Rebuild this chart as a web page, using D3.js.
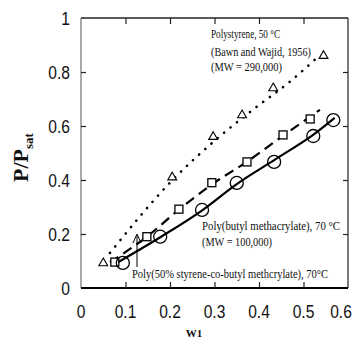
<!DOCTYPE html>
<html><head><meta charset="utf-8">
<script src="https://cdn.jsdelivr.net/npm/d3@7"></script>
<style>
html,body{margin:0;padding:0;background:#fff;}
svg{display:block;}
</style></head>
<body>
<svg id="chart" width="357" height="339"></svg>
<script>
// ---- data ----
const xTicks = [0, 0.1, 0.2, 0.3, 0.4, 0.5, 0.6];
const xTickLabels = ["0", "0.1", "0.2", "0.3", "0.4", "0.5", "0.6"];
const yTicks = [0, 0.2, 0.4, 0.6, 0.8, 1];
const yTickLabels = ["0", "0.2", "0.4", "0.6", "0.8", "1"];

// Polystyrene, 50 °C (triangles)
const psW = [0.05, 0.205, 0.297, 0.362, 0.432, 0.545];
const psP = [0.092, 0.41, 0.56, 0.64, 0.74, 0.86];
// Poly(50% styrene-co-butyl methacrylate), 70 °C (squares)
const coW = [0.076, 0.148, 0.22, 0.294, 0.373, 0.454, 0.515];
const coP = [0.096, 0.19, 0.292, 0.39, 0.467, 0.567, 0.626];
// Poly(butyl methacrylate), 70 °C (circles)
const pbW = [0.094, 0.178, 0.272, 0.35, 0.434, 0.522, 0.567];
const pbP = [0.093, 0.19, 0.289, 0.389, 0.467, 0.563, 0.622];

// fitted curves as drawn
const psFitW = [0.065, 0.2, 0.3, 0.39, 0.47, 0.535];
const psFitP = [0.13, 0.39, 0.545, 0.665, 0.765, 0.86];
const coFitW = [0.065, 0.148, 0.22, 0.3, 0.375, 0.455, 0.537];
const coFitP = [0.095, 0.19, 0.29, 0.39, 0.47, 0.565, 0.66];
const pbFitW = [0.072, 0.18, 0.27, 0.35, 0.44, 0.52, 0.57];
const pbFitP = [0.085, 0.19, 0.285, 0.385, 0.48, 0.565, 0.63];

const svg = d3.select("#chart");
const L = 81, R = 348, T = 18, B = 288;
const x = d3.scaleLinear().domain([0, 0.6]).range([L, R]);
const y = d3.scaleLinear().domain([0, 1]).range([B, T]);

// frame
const g = svg.append("g");
g.append("line").attr("x1", L).attr("x2", R).attr("y1", T).attr("y2", T).attr("stroke", "#222").attr("stroke-width", 1.3);
g.append("line").attr("x1", L).attr("x2", R).attr("y1", B).attr("y2", B).attr("stroke", "#000").attr("stroke-width", 2.2);
g.append("line").attr("x1", L).attr("x2", L).attr("y1", T).attr("y2", B).attr("stroke", "#555").attr("stroke-width", 1);
g.append("line").attr("x1", R).attr("x2", R).attr("y1", T).attr("y2", B).attr("stroke", "#222").attr("stroke-width", 1.2);

// axes via d3 axis generators (inward ticks)
const axB = svg.append("g").attr("transform", `translate(0,${B})`)
  .call(d3.axisTop(x).tickValues(xTicks.slice(1, -1)).tickSize(6).tickFormat(""));
const axT = svg.append("g").attr("transform", `translate(0,${T})`)
  .call(d3.axisBottom(x).tickValues(xTicks.slice(1, -1)).tickSize(6).tickFormat(""));
const axL = svg.append("g").attr("transform", `translate(${L},0)`)
  .call(d3.axisRight(y).tickValues(yTicks.slice(1, -1)).tickSize(5).tickFormat(""));
const axR = svg.append("g").attr("transform", `translate(${R},0)`)
  .call(d3.axisLeft(y).tickValues(yTicks.slice(1, -1)).tickSize(5).tickFormat(""));
[axB, axT, axL, axR].forEach(a => {
  a.select(".domain").remove();
  a.selectAll(".tick line").attr("stroke", "#222").attr("stroke-width", 1.2);
});

// tick labels
const tickFont = "'Liberation Sans', Arial, Helvetica, sans-serif";
svg.append("g").selectAll("text").data(xTicks).join("text")
  .attr("transform", (d, i) => `translate(${Math.min(x(d), 341)},${318}) scale(0.82,1)`)
  .attr("text-anchor", "middle")
  .attr("font-family", tickFont).attr("font-size", 19)
  .attr("fill", "#111")
  .text((d, i) => xTickLabels[i]);
svg.append("g").selectAll("text").data(yTicks).join("text")
  .attr("transform", d => `translate(${70},${y(d) + 7}) scale(0.82,1)`)
  .attr("text-anchor", "end")
  .attr("font-family", tickFont).attr("font-size", 19)
  .attr("fill", "#111")
  .text((d, i) => yTickLabels[i]);

// axis titles
const serif = "'Liberation Serif', 'Times New Roman', Times, serif";
const yl = svg.append("text")
  .attr("transform", "translate(28,182) rotate(-90)")
  .attr("font-family", serif).attr("font-weight", "bold").attr("font-size", 22)
  .attr("fill", "#111");
yl.append("tspan").text("P/P");
yl.append("tspan").attr("font-size", 13).attr("dy", 5).text("sat");

svg.append("text")
  .attr("x", 194).attr("y", 337)
  .attr("text-anchor", "middle")
  .attr("font-family", serif).attr("font-weight", "bold").attr("font-size", 11)
  .attr("fill", "#111")
  .text("W1");

// fitted curves
const lineGen = (W, P) => d3.line().x((d, i) => x(W[i])).y((d, i) => y(P[i])).curve(d3.curveMonotoneX)(W);

svg.append("path").attr("d", lineGen(psFitW, psFitP))
  .attr("fill", "none").attr("stroke", "#000").attr("stroke-width", 2.6)
  .attr("stroke-linecap", "round").attr("stroke-dasharray", "0.1 8.2");
svg.append("path").attr("d", lineGen(coFitW, coFitP))
  .attr("fill", "none").attr("stroke", "#000").attr("stroke-width", 2.2)
  .attr("stroke-dasharray", "10 6");
svg.append("path").attr("d", lineGen(pbFitW, pbFitP))
  .attr("fill", "none").attr("stroke", "#000").attr("stroke-width", 2.2);

// markers
svg.append("g").selectAll("path").data(psW).join("path")
  .attr("d", d3.symbol().type(d3.symbolTriangle).size(34))
  .attr("transform", (d, i) => `translate(${x(d)},${y(psP[i])})`)
  .attr("fill", "#fff").attr("stroke", "#000").attr("stroke-width", 1.1);
svg.append("g").selectAll("rect").data(coW).join("rect")
  .attr("x", d => x(d) - 4).attr("y", (d, i) => y(coP[i]) - 4)
  .attr("width", 8).attr("height", 8)
  .attr("fill", "#fff").attr("stroke", "#000").attr("stroke-width", 1.3);
svg.append("g").selectAll("circle").data(pbW).join("circle")
  .attr("cx", d => x(d)).attr("cy", (d, i) => y(pbP[i])).attr("r", 6.5)
  .attr("fill", "none").attr("stroke", "#000").attr("stroke-width", 1.3);

// annotations
const ann = (lines, widths, x0, ys) => {
  const t = svg.append("text").attr("font-family", serif).attr("font-size", 11.5).attr("fill", "#111");
  lines.forEach((s, i) => t.append("tspan").attr("x", x0).attr("y", ys[i])
    .attr("textLength", widths[i]).attr("lengthAdjust", "spacingAndGlyphs").text(s));
};
ann(["Polystyrene, 50 °C", "(Bawn and Wajid, 1956)", "(MW = 290,000)"], [69, 100, 71], 211, [38, 56, 71]);
ann(["Poly(butyl methacrylate), 70 °C", "(MW = 100,000)"], [138, 70], 202, [230, 246]);
ann(["Poly(50% styrene-co-butyl methcrylate), 70°C"], [196], 132, [278]);

// pointer from the copolymer label
svg.append("line").attr("x1", 137).attr("x2", 137).attr("y1", 267).attr("y2", 236)
  .attr("stroke", "#000").attr("stroke-width", 1);
svg.append("path").attr("d", "M133,243 L137,234 L141,243")
  .attr("fill", "none").attr("stroke", "#000").attr("stroke-width", 1);
</script>
</body></html>
